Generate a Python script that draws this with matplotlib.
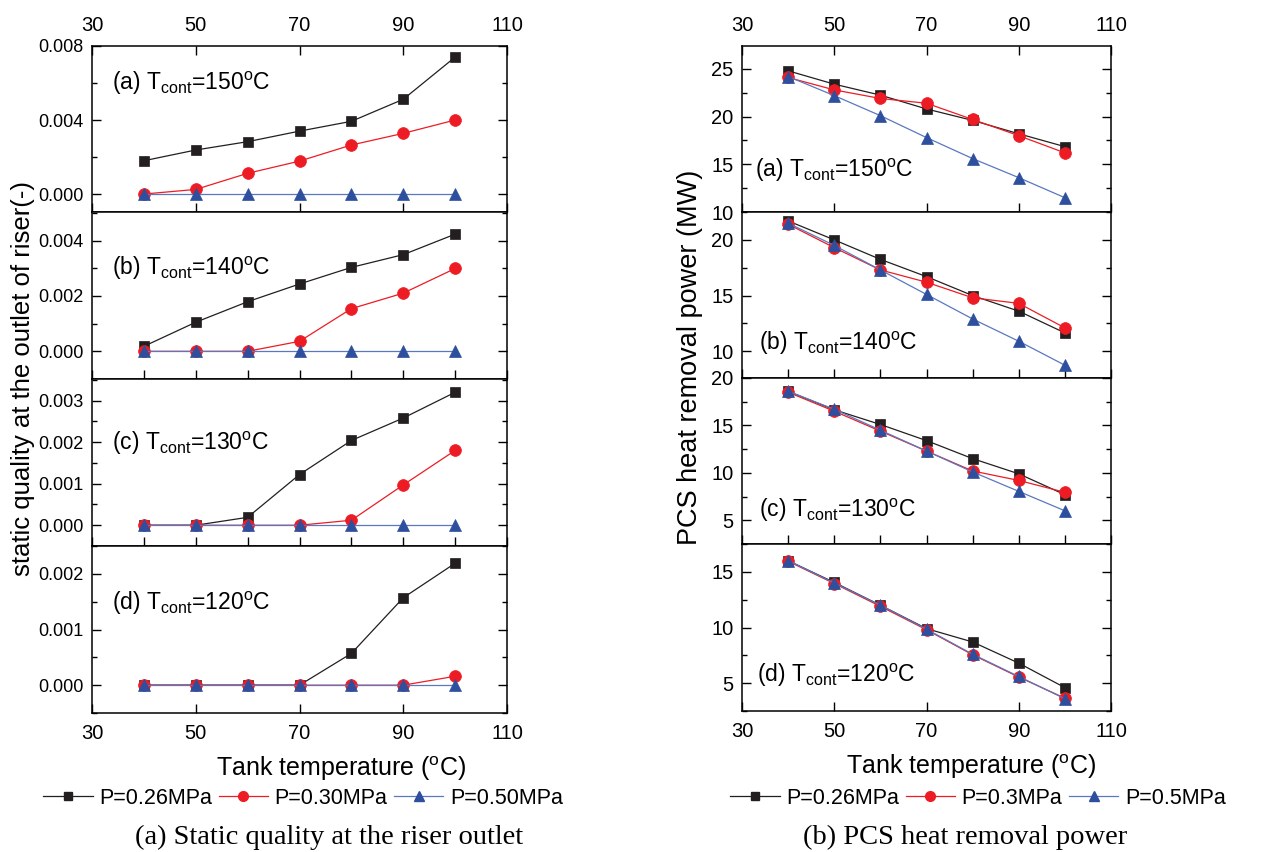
import matplotlib
matplotlib.use('Agg')
from matplotlib import pyplot as plt
from matplotlib.ticker import MultipleLocator, FixedLocator
from matplotlib.lines import Line2D

# fonts: Arial-like for axes, Times-like for the captions
plt.rcParams['font.family'] = ['Liberation Sans', 'DejaVu Sans']
plt.rcParams['mathtext.fontset'] = 'custom'
plt.rcParams['mathtext.rm'] = 'Liberation Sans'
plt.rcParams['mathtext.it'] = 'Liberation Sans:italic'

# ---- data ----
temp = [40, 50, 60, 70, 80, 90, 100]
tags = ['(a)', '(b)', '(c)', '(d)']
t_cont = ['150', '140', '130', '120']

# static quality at the riser outlet, one row per T_cont
quality_026 = [[0.0018, 0.00238, 0.00283, 0.0034, 0.00393, 0.00512, 0.0074],
               [0.00018, 0.00105, 0.00179, 0.00243, 0.00303, 0.00349, 0.00423],
               [0.0, 0.0, 0.00019, 0.00122, 0.00204, 0.00258, 0.0032],
               [0.0, 0.0, 0.0, 0.0, 0.00057, 0.00157, 0.00219]]
quality_030 = [[0.0, 0.00025, 0.00112, 0.00178, 0.00265, 0.00328, 0.004],
               [0.0, 0.0, 0.0, 0.00036, 0.00154, 0.0021, 0.00299],
               [0.0, 0.0, 0.0, 0.0, 0.00012, 0.00097, 0.0018],
               [0.0, 0.0, 0.0, 0.0, 0.0, 0.0, 0.00016]]
quality_050 = [[0.0, 0.0, 0.0, 0.0, 0.0, 0.0, 0.0],
               [0.0, 0.0, 0.0, 0.0, 0.0, 0.0, 0.0],
               [0.0, 0.0, 0.0, 0.0, 0.0, 0.0, 0.0],
               [0.0, 0.0, 0.0, 0.0, 0.0, 0.0, 0.0]]

# PCS heat removal power (MW)
power_026 = [[24.8, 23.4, 22.25, 20.8, 19.6, 18.2, 16.85],
             [21.7, 20.0, 18.25, 16.7, 15.0, 13.6, 11.65],
             [18.6, 16.65, 15.1, 13.4, 11.5, 9.9, 7.7],
             [16.0, 14.05, 12.0, 9.9, 8.7, 6.8, 4.6]]
power_03 = [[24.1, 22.8, 21.9, 21.4, 19.7, 18.0, 16.2],
            [21.4, 19.3, 17.3, 16.2, 14.8, 14.3, 12.1],
            [18.5, 16.5, 14.4, 12.3, 10.2, 9.2, 7.95],
            [15.95, 13.95, 11.9, 9.8, 7.55, 5.55, 3.65]]
power_05 = [[24.2, 22.2, 20.1, 17.8, 15.6, 13.6, 11.5],
            [21.5, 19.5, 17.3, 15.1, 12.9, 10.9, 8.75],
            [18.6, 16.7, 14.5, 12.3, 10.1, 8.05, 6.0],
            [16.0, 14.0, 12.0, 9.85, 7.6, 5.6, 3.6]]

labels_left = ['P=0.26MPa', 'P=0.30MPa', 'P=0.50MPa']
labels_right = ['P=0.26MPa', 'P=0.3MPa', 'P=0.5MPa']

black = '#231f20'
red = '#ed1c24'
blue = '#2e4f9e'
blue_line = '#5a78c0'
styles = [dict(color=black, marker='s', ms=7),
          dict(color=red, marker='o', ms=8.5),
          dict(color=blue, marker='^', ms=8.5)]
line_colors = [black, red, blue_line]

W, H = 1264, 852
fig = plt.figure(figsize=(W / 100, H / 100), dpi=100)


def px_axes(x0, x1, y0, y1):
    # pixel box -> figure axes
    return fig.add_axes([x0 / W, 1 - y1 / H, (x1 - x0) / W, (y1 - y0) / H])


left_rows = [(46, 212), (212, 379), (379, 546), (546, 713)]
right_rows = [(46, 212), (212, 378), (378, 544), (544, 711)]

left_ylim = [(-0.00097, 0.008), (-0.001, 0.00503), (-0.0005, 0.00352), (-0.0005, 0.0025)]
left_major = [0.004, 0.002, 0.001, 0.001]
left_minor = [0.002, 0.001, 0.0005, 0.0005]
left_text_y = [0.735, 0.623, 0.575, 0.617]

right_ylim = [(10, 27.4), (7.6, 22.5), (2.5, 20), (2.5, 17.5)]
right_text_y = [0.21, 0.17, 0.165, 0.175]
right_text_x = [0.035, 0.046, 0.046, 0.042]


def style_axes(ax, i, xlab_pos, ysize):
    ax.set_xlim(30, 110)
    ax.xaxis.set_major_locator(FixedLocator([30, 50, 70, 90, 110]))
    for s in ax.spines.values():
        s.set_linewidth(1.1)
    ax.tick_params(axis='both', which='both', direction='in', width=1.0)
    ax.tick_params(axis='y', which='major', length=6.5, pad=6, labelsize=ysize)
    ax.tick_params(axis='x', which='major', length=6.5, pad=8, labelsize=14.5)
    ax.tick_params(axis='y', which='minor', length=3.5)
    ax.tick_params(axis='y', which='both', left=True, right=True)
    ax.tick_params(axis='x', which='both', top=(i == 0), bottom=True,
                   labeltop=(i == 0), labelbottom=(i == 3))
    if i in (1, 2):
        ax.xaxis.set_minor_locator(FixedLocator([40, 60, 80, 100]))
        ax.tick_params(axis='x', which='minor', length=6.5, top=False)
    if i == 3:
        ax.set_xlabel(r'Tank temperature ($^{\mathrm{o}}$C)', fontsize=18)
        ax.xaxis.set_label_coords(xlab_pos, -0.245)


for i in range(4):
    # left column: static quality
    ax = px_axes(92, 507, left_rows[i][0], left_rows[i][1])
    for k, ys in enumerate([quality_026[i], quality_030[i], quality_050[i]]):
        st = styles[k]
        ax.plot(temp, ys, color=line_colors[k], lw=0.9, marker=st['marker'],
                ms=st['ms'], mfc=st['color'], mec=st['color'], mew=0.5, zorder=3 + k)
    ax.set_ylim(*left_ylim[i])
    ax.yaxis.set_major_locator(MultipleLocator(left_major[i]))
    ax.yaxis.set_minor_locator(MultipleLocator(left_minor[i]))
    ax.yaxis.set_major_formatter(plt.FormatStrFormatter('%.3f'))
    style_axes(ax, i, 0.60, 13)
    ax.text(0.048, left_text_y[i],
            tags[i] + r' T$_{\mathrm{cont}}$=' + t_cont[i] + r'$^{\mathrm{o}}$C',
            transform=ax.transAxes, fontsize=16.5, va='baseline')

    # right column: PCS heat removal power
    ax = px_axes(742, 1111, right_rows[i][0], right_rows[i][1])
    for k, ys in enumerate([power_026[i], power_03[i], power_05[i]]):
        st = styles[k]
        ax.plot(temp, ys, color=line_colors[k], lw=0.9, marker=st['marker'],
                ms=st['ms'], mfc=st['color'], mec=st['color'], mew=0.5, zorder=3 + k)
    ax.set_ylim(*right_ylim[i])
    ax.yaxis.set_major_locator(MultipleLocator(5))
    ax.yaxis.set_minor_locator(MultipleLocator(2.5))
    style_axes(ax, i, 0.62, 14.5)
    ax.text(right_text_x[i], right_text_y[i],
            tags[i] + r' T$_{\mathrm{cont}}$=' + t_cont[i] + r'$^{\mathrm{o}}$C',
            transform=ax.transAxes, fontsize=16.5, va='baseline')

# y labels
fig.text(23 / W, 1 - 378 / H, 'static quality at the outlet of riser(-)',
         rotation=90, ha='center', va='center', fontsize=18.5)
fig.text(690 / W, 1 - 357 / H, 'PCS heat removal power (MW)',
         rotation=90, ha='center', va='center', fontsize=19.5)

# legends
handles = [Line2D([], [], color=line_colors[k], lw=0.9, marker=styles[k]['marker'],
                  ms=styles[k]['ms'] - 1.5, mfc=styles[k]['color'], mec=styles[k]['color'])
           for k in range(3)]
fig.legend(handles, labels_left, loc='center', bbox_to_anchor=(303 / W, 1 - 798 / H),
           ncol=3, frameon=False, fontsize=15.5, handlelength=2.3,
           handletextpad=0.3, columnspacing=0.3)
fig.legend(handles, labels_right, loc='center', bbox_to_anchor=(978 / W, 1 - 798 / H),
           ncol=3, frameon=False, fontsize=15.5, handlelength=2.3,
           handletextpad=0.3, columnspacing=0.3)

# captions
fig.text(329 / W, 1 - 837 / H, '(a) Static quality at the riser outlet',
         ha='center', va='center', fontsize=20.5, family='Liberation Serif')
fig.text(965 / W, 1 - 837 / H, '(b) PCS heat removal power',
         ha='center', va='center', fontsize=20.5, family='Liberation Serif')

plt.savefig('out.png', dpi=100)
